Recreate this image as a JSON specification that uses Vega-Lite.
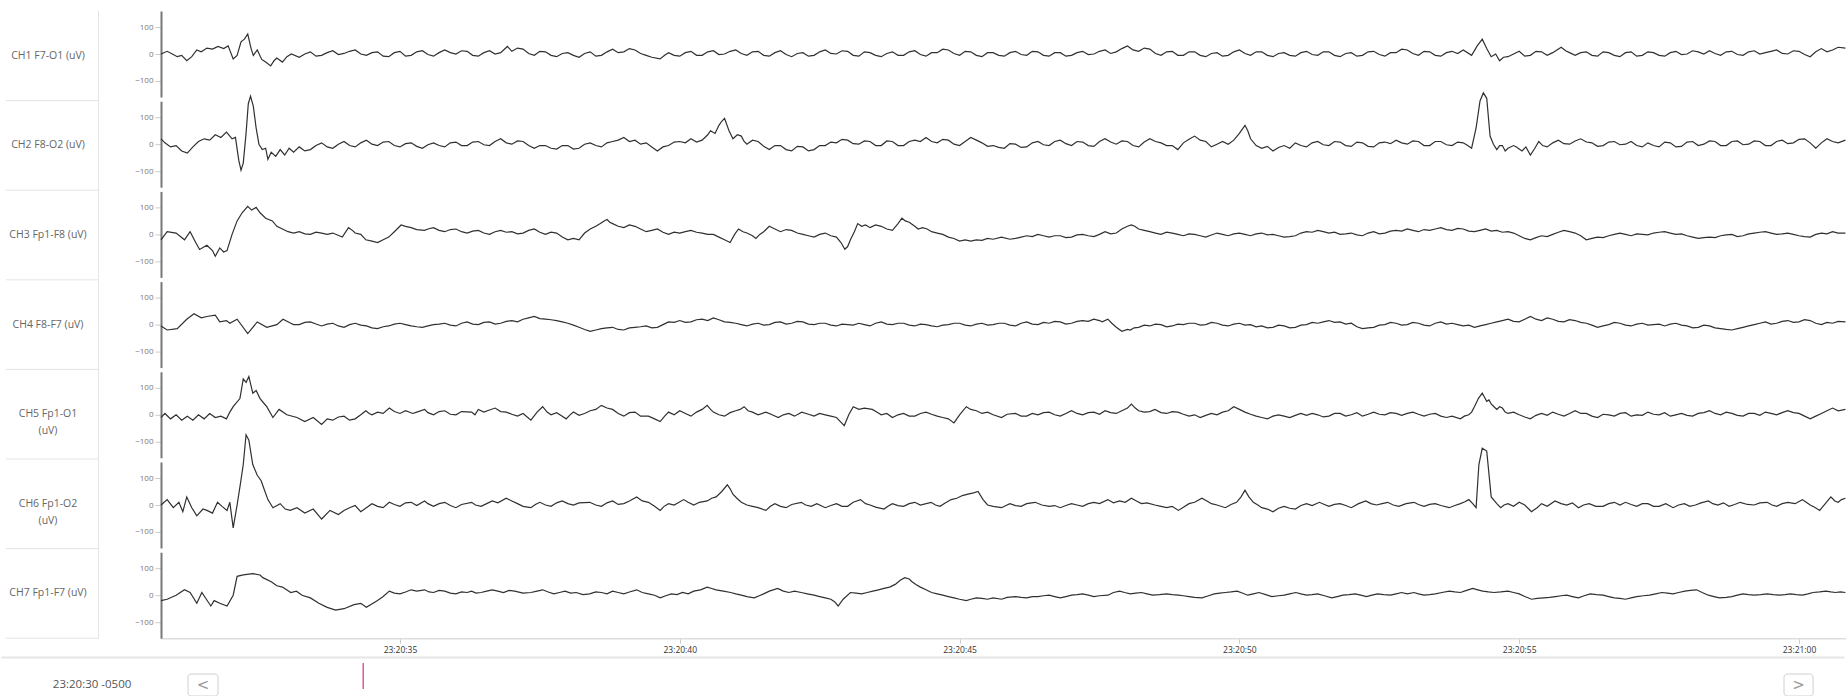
{
"$schema":"https://vega.github.io/schema/vega-lite/v6.json",
"background":"white",
"padding":{"left":0,"top":10,"right":0,"bottom":0},
"config":{"view":{"stroke":null},"font":"Open Sans","axis":{"labelFont":"Open Sans"}},
"datasets":{
"labels":[{"ch":1,"label":"CH1 F7-O1 (uV)"},{"ch":2,"label":"CH2 F8-O2 (uV)"},{"ch":3,"label":"CH3 Fp1-F8 (uV)"},{"ch":4,"label":"CH4 F8-F7 (uV)"},{"ch":5,"label":"CH5 Fp1-O1\n(uV)"},{"ch":6,"label":"CH6 Fp1-O2\n(uV)"},{"ch":7,"label":"CH7 Fp1-F7 (uV)"}],
"seps":[{"b":1.5},{"b":2.5},{"b":3.5},{"b":4.5},{"b":5.5},{"b":6.5},{"b":7.5}],
"hours":[{"h":23,"lab":"23:00"},{"h":24,"lab":"00:00"},{"h":25,"lab":"01:00"},{"h":26,"lab":"02:00"},{"h":27,"lab":"03:00"},{"h":28,"lab":"04:00"},{"h":29,"lab":"05:00"},{"h":30,"lab":"06:00"},{"h":31,"lab":"07:00"}],
"c1":[{"t":307.3,"v":0},{"t":308.4,"v":10},{"t":309.5,"v":-2},{"t":310.2,"v":-10},{"t":311,"v":-5},{"t":311.9,"v":-25},{"t":312.8,"v":-10},{"t":313.7,"v":15},{"t":314.5,"v":8},{"t":315.5,"v":22},{"t":316.5,"v":18},{"t":317.5,"v":28},{"t":318.5,"v":20},{"t":319.3,"v":30},{"t":320.2,"v":-18},{"t":320.9,"v":-5},{"t":321.6,"v":45},{"t":322.2,"v":55},{"t":322.8,"v":74},{"t":323.4,"v":20},{"t":323.8,"v":-5},{"t":324.5,"v":15},{"t":325.3,"v":-20},{"t":326,"v":-30},{"t":326.9,"v":-44},{"t":327.5,"v":-25},{"t":328,"v":-15},{"t":329,"v":-30},{"t":329.8,"v":-10},{"t":330.6,"v":0},{"t":332,"v":-12},{"t":333,"v":0},{"t":334,"v":8},{"t":335,"v":-8},{"t":336,"v":-5},{"t":337,"v":5},{"t":338,"v":12},{"t":339,"v":-2},{"t":340,"v":2},{"t":341,"v":10},{"t":342,"v":15},{"t":343,"v":0},{"t":344,"v":-5},{"t":345,"v":5},{"t":346,"v":8},{"t":347,"v":-8},{"t":348,"v":-10},{"t":349,"v":5},{"t":350,"v":10},{"t":351,"v":-8},{"t":352,"v":-5},{"t":353,"v":8},{"t":354,"v":12},{"t":355,"v":-2},{"t":356,"v":-8},{"t":357,"v":5},{"t":358,"v":15},{"t":359,"v":5},{"t":360,"v":0},{"t":361,"v":12},{"t":362,"v":10},{"t":363,"v":-5},{"t":364,"v":-8},{"t":365,"v":5},{"t":366,"v":12},{"t":367,"v":0},{"t":368,"v":5},{"t":369.2,"v":28},{"t":370,"v":10},{"t":371,"v":22},{"t":372,"v":18},{"t":373,"v":2},{"t":374,"v":-5},{"t":375,"v":10},{"t":376,"v":8},{"t":377,"v":-5},{"t":378,"v":-10},{"t":379,"v":2},{"t":380,"v":5},{"t":381,"v":-5},{"t":382,"v":-12},{"t":383,"v":2},{"t":384,"v":8},{"t":385,"v":-8},{"t":386,"v":-5},{"t":387,"v":8},{"t":388,"v":18},{"t":389,"v":5},{"t":390,"v":8},{"t":391,"v":20},{"t":392,"v":15},{"t":393,"v":2},{"t":394,"v":-5},{"t":395,"v":-12},{"t":396.5,"v":-18},{"t":397.3,"v":-5},{"t":398,"v":5},{"t":399,"v":-5},{"t":400,"v":-8},{"t":401,"v":5},{"t":402,"v":10},{"t":403,"v":-5},{"t":404,"v":-5},{"t":405,"v":8},{"t":406,"v":12},{"t":407,"v":-2},{"t":408,"v":0},{"t":409,"v":10},{"t":410,"v":15},{"t":411,"v":2},{"t":412,"v":-5},{"t":413,"v":8},{"t":414,"v":10},{"t":415,"v":-5},{"t":416,"v":-8},{"t":417,"v":5},{"t":418,"v":12},{"t":419,"v":-2},{"t":420,"v":-10},{"t":421,"v":2},{"t":422,"v":5},{"t":423,"v":-8},{"t":424,"v":-5},{"t":425,"v":8},{"t":426,"v":15},{"t":427,"v":2},{"t":428,"v":0},{"t":429,"v":12},{"t":430,"v":10},{"t":431,"v":-5},{"t":432,"v":-8},{"t":433,"v":8},{"t":434,"v":5},{"t":435,"v":-5},{"t":436,"v":-10},{"t":437,"v":2},{"t":438,"v":8},{"t":439,"v":-5},{"t":440,"v":-5},{"t":441,"v":8},{"t":442,"v":12},{"t":443,"v":-2},{"t":444,"v":-8},{"t":445,"v":5},{"t":446,"v":5},{"t":447,"v":18},{"t":448,"v":15},{"t":449,"v":2},{"t":450,"v":-5},{"t":451,"v":10},{"t":452,"v":8},{"t":453,"v":-5},{"t":454,"v":-10},{"t":455,"v":5},{"t":456,"v":5},{"t":457,"v":-5},{"t":458,"v":-8},{"t":459,"v":5},{"t":460,"v":10},{"t":461,"v":-2},{"t":462,"v":-5},{"t":463,"v":10},{"t":464,"v":8},{"t":465,"v":-5},{"t":466,"v":-8},{"t":467,"v":5},{"t":468,"v":5},{"t":469,"v":-8},{"t":470,"v":-5},{"t":471,"v":5},{"t":472,"v":10},{"t":473,"v":-2},{"t":474,"v":0},{"t":475,"v":10},{"t":476,"v":15},{"t":477,"v":2},{"t":478,"v":8},{"t":479,"v":20},{"t":480,"v":30},{"t":481,"v":15},{"t":482,"v":10},{"t":483,"v":22},{"t":484,"v":18},{"t":485,"v":2},{"t":486,"v":-5},{"t":487,"v":8},{"t":488,"v":10},{"t":489,"v":-5},{"t":490,"v":-5},{"t":491,"v":8},{"t":492,"v":8},{"t":493,"v":-5},{"t":494,"v":-10},{"t":495,"v":2},{"t":496,"v":5},{"t":497,"v":-8},{"t":498,"v":-5},{"t":499,"v":8},{"t":500,"v":15},{"t":501,"v":2},{"t":502,"v":-5},{"t":503,"v":8},{"t":504,"v":8},{"t":505,"v":-5},{"t":506,"v":-10},{"t":507,"v":2},{"t":508,"v":5},{"t":509,"v":-5},{"t":510,"v":-8},{"t":511,"v":5},{"t":512,"v":10},{"t":513,"v":-2},{"t":514,"v":-5},{"t":515,"v":8},{"t":516,"v":8},{"t":517,"v":-5},{"t":518,"v":-10},{"t":519,"v":2},{"t":520,"v":5},{"t":521,"v":-8},{"t":522,"v":-5},{"t":523,"v":8},{"t":524,"v":10},{"t":525,"v":-2},{"t":526,"v":-8},{"t":527,"v":5},{"t":528,"v":5},{"t":529,"v":18},{"t":530,"v":15},{"t":531,"v":2},{"t":532,"v":-5},{"t":533,"v":10},{"t":534,"v":8},{"t":535,"v":-5},{"t":536,"v":-8},{"t":537,"v":5},{"t":538,"v":10},{"t":539,"v":2},{"t":540,"v":15},{"t":541.5,"v":-5},{"t":542.5,"v":30},{"t":543.4,"v":55},{"t":544.2,"v":20},{"t":545,"v":-10},{"t":545.8,"v":0},{"t":546.5,"v":-25},{"t":547.2,"v":-12},{"t":548,"v":-10},{"t":549,"v":0},{"t":550,"v":10},{"t":551,"v":-8},{"t":552,"v":-5},{"t":553,"v":10},{"t":554,"v":8},{"t":555,"v":-5},{"t":556,"v":5},{"t":557.5,"v":25},{"t":558.3,"v":12},{"t":559,"v":5},{"t":560,"v":-5},{"t":561,"v":5},{"t":562,"v":8},{"t":563,"v":-5},{"t":564,"v":-8},{"t":565,"v":8},{"t":566,"v":5},{"t":567,"v":-5},{"t":568,"v":-10},{"t":569,"v":5},{"t":570,"v":8},{"t":571,"v":-8},{"t":572,"v":-5},{"t":573,"v":8},{"t":574,"v":5},{"t":575,"v":-5},{"t":576,"v":-8},{"t":577,"v":5},{"t":578,"v":10},{"t":579,"v":-2},{"t":580,"v":0},{"t":581,"v":12},{"t":582,"v":8},{"t":583,"v":0},{"t":584,"v":12},{"t":585,"v":2},{"t":586,"v":-5},{"t":587,"v":8},{"t":588,"v":10},{"t":589,"v":-2},{"t":590,"v":-5},{"t":591,"v":8},{"t":592,"v":12},{"t":593,"v":0},{"t":594,"v":5},{"t":595,"v":10},{"t":596,"v":15},{"t":597,"v":2},{"t":598,"v":0},{"t":599,"v":12},{"t":600,"v":10},{"t":601,"v":-2},{"t":602,"v":-10},{"t":603,"v":8},{"t":604,"v":20},{"t":605,"v":8},{"t":606,"v":15},{"t":607,"v":25},{"t":608.3,"v":22}],
"c2":[{"t":307.3,"v":20},{"t":308,"v":5},{"t":309,"v":-10},{"t":310,"v":-5},{"t":311,"v":-25},{"t":312,"v":-33},{"t":313,"v":-10},{"t":314,"v":10},{"t":315,"v":20},{"t":316,"v":15},{"t":317,"v":35},{"t":318,"v":25},{"t":319,"v":45},{"t":320,"v":20},{"t":320.6,"v":25},{"t":321.2,"v":-60},{"t":321.6,"v":-96},{"t":322,"v":-70},{"t":322.5,"v":40},{"t":322.9,"v":150},{"t":323.3,"v":178},{"t":323.8,"v":140},{"t":324.3,"v":60},{"t":324.8,"v":0},{"t":325.4,"v":-20},{"t":326,"v":-15},{"t":326.4,"v":-56},{"t":327,"v":-30},{"t":327.8,"v":-45},{"t":328.6,"v":-20},{"t":329.4,"v":-40},{"t":330.2,"v":-15},{"t":331,"v":-30},{"t":332,"v":-10},{"t":333,"v":-25},{"t":334,"v":-20},{"t":335,"v":-5},{"t":336,"v":5},{"t":337,"v":-10},{"t":338,"v":-15},{"t":339,"v":0},{"t":340,"v":10},{"t":341,"v":-5},{"t":342,"v":-10},{"t":343,"v":5},{"t":344,"v":15},{"t":345,"v":0},{"t":346,"v":-5},{"t":347,"v":8},{"t":348,"v":10},{"t":349,"v":-5},{"t":350,"v":-10},{"t":351,"v":2},{"t":352,"v":5},{"t":353,"v":-8},{"t":354,"v":-15},{"t":355,"v":-2},{"t":356,"v":5},{"t":357,"v":-5},{"t":358,"v":-10},{"t":359,"v":5},{"t":360,"v":8},{"t":361,"v":-5},{"t":362,"v":-5},{"t":363,"v":8},{"t":364,"v":10},{"t":365,"v":-2},{"t":366,"v":-5},{"t":367,"v":10},{"t":368,"v":20},{"t":369,"v":5},{"t":370,"v":0},{"t":371,"v":12},{"t":372,"v":10},{"t":373,"v":-5},{"t":374,"v":-15},{"t":375,"v":-5},{"t":376,"v":-5},{"t":377,"v":-15},{"t":378,"v":-18},{"t":379,"v":-5},{"t":380,"v":-5},{"t":381,"v":-18},{"t":382,"v":-15},{"t":383,"v":0},{"t":384,"v":5},{"t":385,"v":-5},{"t":386,"v":-10},{"t":387,"v":5},{"t":388,"v":10},{"t":389,"v":15},{"t":390,"v":25},{"t":391,"v":10},{"t":392,"v":15},{"t":393,"v":0},{"t":394,"v":5},{"t":395,"v":-10},{"t":396,"v":-25},{"t":397,"v":-10},{"t":398,"v":-5},{"t":399,"v":8},{"t":400,"v":10},{"t":401,"v":5},{"t":402,"v":20},{"t":403,"v":8},{"t":404,"v":15},{"t":405,"v":35},{"t":405.5,"v":50},{"t":406.3,"v":40},{"t":407,"v":70},{"t":407.5,"v":85},{"t":408,"v":96},{"t":408.8,"v":50},{"t":409.5,"v":20},{"t":410.3,"v":35},{"t":411,"v":30},{"t":411.5,"v":10},{"t":412,"v":0},{"t":413,"v":15},{"t":414,"v":10},{"t":415,"v":-8},{"t":416,"v":-20},{"t":417,"v":-5},{"t":418,"v":-5},{"t":419,"v":-20},{"t":420,"v":-25},{"t":421,"v":-8},{"t":422,"v":-10},{"t":423,"v":-25},{"t":424,"v":-20},{"t":425,"v":-5},{"t":426,"v":-5},{"t":427,"v":8},{"t":428,"v":5},{"t":429,"v":18},{"t":430,"v":15},{"t":431,"v":2},{"t":432,"v":0},{"t":433,"v":12},{"t":434,"v":10},{"t":435,"v":-5},{"t":436,"v":-5},{"t":437,"v":12},{"t":438,"v":10},{"t":439,"v":-5},{"t":440,"v":-5},{"t":441,"v":10},{"t":442,"v":15},{"t":443,"v":10},{"t":444,"v":25},{"t":445,"v":10},{"t":446,"v":5},{"t":447,"v":18},{"t":448,"v":15},{"t":449,"v":0},{"t":450,"v":-5},{"t":451,"v":10},{"t":452,"v":25},{"t":453,"v":15},{"t":454,"v":5},{"t":455,"v":-8},{"t":456,"v":-5},{"t":457,"v":-12},{"t":458,"v":-15},{"t":459,"v":2},{"t":460,"v":0},{"t":461,"v":-12},{"t":462,"v":-10},{"t":463,"v":5},{"t":464,"v":10},{"t":465,"v":-2},{"t":466,"v":-5},{"t":467,"v":10},{"t":468,"v":15},{"t":469,"v":2},{"t":470,"v":-5},{"t":471,"v":10},{"t":472,"v":8},{"t":473,"v":-5},{"t":474,"v":-8},{"t":475,"v":10},{"t":476,"v":20},{"t":477,"v":8},{"t":478,"v":0},{"t":479,"v":12},{"t":480,"v":10},{"t":481,"v":-5},{"t":482,"v":-10},{"t":483,"v":8},{"t":484,"v":20},{"t":485,"v":10},{"t":486,"v":5},{"t":487,"v":-5},{"t":488,"v":-5},{"t":489,"v":-20},{"t":490,"v":5},{"t":491,"v":18},{"t":492,"v":30},{"t":493,"v":15},{"t":494,"v":10},{"t":495,"v":-10},{"t":496,"v":0},{"t":497,"v":10},{"t":498,"v":0},{"t":499,"v":15},{"t":500,"v":40},{"t":501,"v":70},{"t":501.5,"v":50},{"t":502,"v":20},{"t":503,"v":-5},{"t":504,"v":-15},{"t":505,"v":-8},{"t":506,"v":-25},{"t":507,"v":-12},{"t":508,"v":-5},{"t":509,"v":-15},{"t":510,"v":5},{"t":511,"v":-5},{"t":512,"v":-10},{"t":513,"v":5},{"t":514,"v":10},{"t":515,"v":-2},{"t":516,"v":-5},{"t":517,"v":10},{"t":518,"v":8},{"t":519,"v":-5},{"t":520,"v":-8},{"t":521,"v":8},{"t":522,"v":5},{"t":523,"v":-8},{"t":524,"v":-10},{"t":525,"v":5},{"t":526,"v":8},{"t":527,"v":2},{"t":528,"v":15},{"t":529,"v":5},{"t":530,"v":0},{"t":531,"v":12},{"t":532,"v":10},{"t":533,"v":-5},{"t":534,"v":-5},{"t":535,"v":10},{"t":536,"v":10},{"t":537,"v":-2},{"t":538,"v":-5},{"t":539,"v":8},{"t":540,"v":5},{"t":540.8,"v":-5},{"t":541.5,"v":-15},{"t":542.3,"v":60},{"t":543,"v":160},{"t":543.6,"v":190},{"t":544.2,"v":170},{"t":544.8,"v":30},{"t":545.4,"v":0},{"t":546,"v":-20},{"t":546.5,"v":-5},{"t":547,"v":-5},{"t":547.5,"v":-25},{"t":548,"v":-15},{"t":549,"v":-5},{"t":549.5,"v":-10},{"t":550.5,"v":-25},{"t":551.2,"v":-10},{"t":552,"v":-40},{"t":552.8,"v":-15},{"t":553.5,"v":10},{"t":554.2,"v":-5},{"t":555,"v":-10},{"t":556,"v":5},{"t":557,"v":15},{"t":558,"v":2},{"t":559,"v":0},{"t":560,"v":12},{"t":561,"v":20},{"t":562,"v":8},{"t":563,"v":5},{"t":564,"v":-8},{"t":565,"v":-5},{"t":566,"v":8},{"t":567,"v":10},{"t":568,"v":-2},{"t":569,"v":0},{"t":570,"v":10},{"t":571,"v":-5},{"t":572,"v":-10},{"t":573,"v":5},{"t":574,"v":-5},{"t":575,"v":-10},{"t":576,"v":8},{"t":577,"v":5},{"t":578,"v":-10},{"t":579,"v":-8},{"t":580,"v":8},{"t":581,"v":10},{"t":582,"v":-5},{"t":583,"v":0},{"t":584,"v":12},{"t":585,"v":10},{"t":586,"v":-5},{"t":587,"v":-5},{"t":588,"v":10},{"t":589,"v":12},{"t":590,"v":-2},{"t":591,"v":0},{"t":592,"v":12},{"t":593,"v":10},{"t":594,"v":-5},{"t":595,"v":-5},{"t":596,"v":10},{"t":597,"v":15},{"t":598,"v":2},{"t":599,"v":5},{"t":600,"v":18},{"t":601,"v":20},{"t":602,"v":5},{"t":603,"v":-15},{"t":604,"v":5},{"t":605,"v":20},{"t":606,"v":10},{"t":607,"v":5},{"t":608.3,"v":15}],
"c3":[{"t":307.3,"v":-20},{"t":308.4,"v":10},{"t":310,"v":5},{"t":311.5,"v":-20},{"t":312.5,"v":10},{"t":313.5,"v":-30},{"t":314.2,"v":-56},{"t":315.5,"v":-40},{"t":316.5,"v":-60},{"t":317,"v":-81},{"t":317.8,"v":-50},{"t":318.5,"v":-65},{"t":319.1,"v":-60},{"t":320,"v":0},{"t":320.9,"v":50},{"t":321.8,"v":80},{"t":322.8,"v":104},{"t":323.5,"v":90},{"t":324.3,"v":100},{"t":325,"v":80},{"t":326,"v":60},{"t":327.2,"v":50},{"t":328,"v":30},{"t":329,"v":20},{"t":330,"v":10},{"t":331,"v":5},{"t":332,"v":10},{"t":333,"v":2},{"t":334,"v":0},{"t":335,"v":8},{"t":336,"v":5},{"t":337,"v":0},{"t":338,"v":5},{"t":339.7,"v":-10},{"t":340.8,"v":25},{"t":341.5,"v":15},{"t":342,"v":5},{"t":343,"v":0},{"t":343.9,"v":-20},{"t":345,"v":-25},{"t":346,"v":-30},{"t":347,"v":-20},{"t":348,"v":-10},{"t":349,"v":10},{"t":350.2,"v":35},{"t":351,"v":30},{"t":352,"v":25},{"t":353,"v":18},{"t":354.4,"v":15},{"t":355,"v":20},{"t":356,"v":25},{"t":357,"v":15},{"t":358,"v":10},{"t":359,"v":18},{"t":360,"v":20},{"t":361,"v":10},{"t":362,"v":5},{"t":363,"v":12},{"t":364,"v":15},{"t":365,"v":5},{"t":366,"v":0},{"t":367,"v":10},{"t":368,"v":15},{"t":369,"v":8},{"t":370,"v":10},{"t":371,"v":2},{"t":372,"v":5},{"t":373,"v":15},{"t":374,"v":20},{"t":375,"v":8},{"t":376,"v":0},{"t":377,"v":8},{"t":378,"v":5},{"t":379,"v":-10},{"t":380,"v":-20},{"t":381,"v":-15},{"t":382,"v":-20},{"t":383,"v":5},{"t":384,"v":20},{"t":385,"v":30},{"t":385.8,"v":40},{"t":386.5,"v":50},{"t":387,"v":55},{"t":387.5,"v":45},{"t":388,"v":40},{"t":389,"v":30},{"t":390,"v":25},{"t":391,"v":35},{"t":392,"v":30},{"t":393,"v":20},{"t":394,"v":10},{"t":395,"v":15},{"t":396,"v":20},{"t":397,"v":8},{"t":398,"v":0},{"t":399,"v":8},{"t":400,"v":5},{"t":401,"v":10},{"t":402,"v":15},{"t":403,"v":8},{"t":404,"v":5},{"t":405,"v":0},{"t":406,"v":0},{"t":407,"v":-10},{"t":408,"v":-20},{"t":409,"v":-30},{"t":409.8,"v":0},{"t":410.5,"v":20},{"t":411.3,"v":10},{"t":412,"v":5},{"t":413,"v":-5},{"t":413.6,"v":-15},{"t":414.3,"v":0},{"t":415,"v":10},{"t":415.5,"v":20},{"t":416,"v":30},{"t":417,"v":20},{"t":418,"v":10},{"t":419,"v":18},{"t":420,"v":15},{"t":421,"v":5},{"t":422,"v":0},{"t":423,"v":-5},{"t":424,"v":-10},{"t":425,"v":0},{"t":426,"v":5},{"t":427,"v":-5},{"t":428,"v":-10},{"t":428.8,"v":-30},{"t":429.5,"v":-55},{"t":430,"v":-45},{"t":430.5,"v":-20},{"t":431.2,"v":10},{"t":431.8,"v":40},{"t":432.5,"v":30},{"t":433.2,"v":35},{"t":434,"v":25},{"t":435,"v":35},{"t":436,"v":30},{"t":437,"v":20},{"t":438,"v":15},{"t":439,"v":40},{"t":439.7,"v":60},{"t":440.3,"v":50},{"t":441,"v":45},{"t":442,"v":30},{"t":442.6,"v":20},{"t":443.4,"v":25},{"t":444.2,"v":20},{"t":445,"v":10},{"t":446,"v":5},{"t":447,"v":0},{"t":448,"v":-10},{"t":449,"v":-15},{"t":450,"v":-25},{"t":451,"v":-20},{"t":452,"v":-25},{"t":453,"v":-20},{"t":454,"v":-22},{"t":455,"v":-15},{"t":456,"v":-18},{"t":457.5,"v":-10},{"t":459,"v":-18},{"t":460,"v":-15},{"t":461,"v":-10},{"t":462,"v":-5},{"t":463,"v":-8},{"t":464,"v":0},{"t":465,"v":-5},{"t":466,"v":-10},{"t":467,"v":-5},{"t":468,"v":-5},{"t":469,"v":-12},{"t":470,"v":-10},{"t":471,"v":-2},{"t":472,"v":0},{"t":473,"v":-5},{"t":474,"v":-8},{"t":475,"v":0},{"t":476,"v":10},{"t":477,"v":2},{"t":478,"v":5},{"t":479,"v":20},{"t":480,"v":30},{"t":480.7,"v":35},{"t":481.3,"v":30},{"t":482,"v":20},{"t":483,"v":15},{"t":484,"v":10},{"t":485,"v":5},{"t":486,"v":0},{"t":487,"v":8},{"t":488,"v":5},{"t":489,"v":0},{"t":490,"v":-5},{"t":491,"v":2},{"t":492,"v":0},{"t":493,"v":-5},{"t":494,"v":-10},{"t":495,"v":-2},{"t":496,"v":5},{"t":497,"v":0},{"t":498,"v":-5},{"t":499,"v":2},{"t":500,"v":5},{"t":501,"v":0},{"t":502,"v":-5},{"t":503,"v":2},{"t":504,"v":5},{"t":505,"v":-2},{"t":506,"v":0},{"t":507,"v":-5},{"t":508,"v":-10},{"t":509,"v":-8},{"t":510,"v":-5},{"t":511,"v":5},{"t":512,"v":10},{"t":513,"v":8},{"t":514,"v":15},{"t":515,"v":10},{"t":516,"v":5},{"t":517,"v":8},{"t":518,"v":0},{"t":519,"v":2},{"t":520,"v":5},{"t":521,"v":-2},{"t":522,"v":-5},{"t":523,"v":5},{"t":524,"v":10},{"t":525,"v":2},{"t":526,"v":5},{"t":527,"v":12},{"t":528,"v":15},{"t":529,"v":12},{"t":530,"v":20},{"t":531,"v":15},{"t":532,"v":10},{"t":533,"v":18},{"t":534,"v":15},{"t":535,"v":20},{"t":536,"v":25},{"t":537,"v":18},{"t":538,"v":15},{"t":539,"v":22},{"t":540,"v":20},{"t":541,"v":12},{"t":542,"v":10},{"t":543,"v":15},{"t":544,"v":20},{"t":545,"v":12},{"t":546,"v":15},{"t":547,"v":8},{"t":548,"v":10},{"t":549,"v":5},{"t":550,"v":-5},{"t":551,"v":-15},{"t":552,"v":-20},{"t":553,"v":-12},{"t":554,"v":-5},{"t":555,"v":-8},{"t":556,"v":0},{"t":557,"v":8},{"t":558,"v":15},{"t":559,"v":10},{"t":560,"v":5},{"t":561,"v":-5},{"t":562,"v":-20},{"t":563,"v":-15},{"t":564,"v":-10},{"t":565,"v":-12},{"t":566,"v":-5},{"t":567,"v":0},{"t":568,"v":5},{"t":569,"v":0},{"t":570,"v":-5},{"t":571,"v":2},{"t":572,"v":0},{"t":573,"v":-2},{"t":574,"v":5},{"t":575,"v":8},{"t":576,"v":10},{"t":577,"v":5},{"t":578,"v":0},{"t":579,"v":2},{"t":580,"v":-5},{"t":581,"v":-10},{"t":582,"v":-15},{"t":583,"v":-12},{"t":584,"v":-10},{"t":585,"v":-12},{"t":586,"v":-5},{"t":587,"v":-2},{"t":588,"v":0},{"t":589,"v":-8},{"t":590,"v":-5},{"t":591,"v":2},{"t":592,"v":5},{"t":593,"v":8},{"t":594,"v":10},{"t":595,"v":5},{"t":596,"v":0},{"t":597,"v":2},{"t":598,"v":5},{"t":599,"v":0},{"t":600,"v":-5},{"t":601,"v":-8},{"t":602,"v":-10},{"t":603,"v":0},{"t":604,"v":5},{"t":605,"v":2},{"t":606,"v":10},{"t":607,"v":5},{"t":608.3,"v":5}],
"c4":[{"t":307.3,"v":-5},{"t":308.4,"v":-20},{"t":310.2,"v":-15},{"t":311.9,"v":20},{"t":313.2,"v":40},{"t":314.5,"v":25},{"t":315.5,"v":30},{"t":317,"v":35},{"t":317.8,"v":10},{"t":319,"v":15},{"t":319.6,"v":5},{"t":320.9,"v":20},{"t":322.8,"v":-33},{"t":324.5,"v":10},{"t":326.2,"v":-10},{"t":328,"v":0},{"t":329.1,"v":20},{"t":330.5,"v":5},{"t":331,"v":0},{"t":332,"v":0},{"t":333,"v":8},{"t":334,"v":10},{"t":335,"v":2},{"t":336,"v":-5},{"t":337,"v":2},{"t":338,"v":5},{"t":339,"v":-5},{"t":340,"v":-10},{"t":341,"v":0},{"t":342,"v":5},{"t":343,"v":-2},{"t":344,"v":-5},{"t":345,"v":-12},{"t":346,"v":-15},{"t":347,"v":-8},{"t":348,"v":-5},{"t":349,"v":2},{"t":350,"v":5},{"t":351,"v":0},{"t":352,"v":-5},{"t":353,"v":-8},{"t":354,"v":-10},{"t":355,"v":-5},{"t":356,"v":0},{"t":357,"v":2},{"t":358,"v":5},{"t":359,"v":-2},{"t":360,"v":-5},{"t":361,"v":5},{"t":362,"v":10},{"t":363,"v":2},{"t":364,"v":0},{"t":365,"v":8},{"t":366,"v":10},{"t":367,"v":2},{"t":368,"v":5},{"t":369,"v":12},{"t":370,"v":15},{"t":371,"v":10},{"t":372,"v":20},{"t":373,"v":25},{"t":374,"v":30},{"t":375,"v":22},{"t":376,"v":20},{"t":377,"v":18},{"t":378,"v":15},{"t":379,"v":10},{"t":380,"v":5},{"t":381,"v":-2},{"t":382,"v":-10},{"t":383,"v":-18},{"t":384,"v":-25},{"t":385,"v":-20},{"t":386,"v":-15},{"t":387,"v":-12},{"t":388,"v":-10},{"t":389,"v":-18},{"t":390,"v":-20},{"t":391,"v":-12},{"t":392,"v":-10},{"t":393,"v":-8},{"t":394,"v":-5},{"t":395,"v":-12},{"t":396,"v":-10},{"t":397,"v":0},{"t":398,"v":10},{"t":399,"v":8},{"t":400,"v":15},{"t":401,"v":8},{"t":402,"v":10},{"t":403,"v":18},{"t":404,"v":20},{"t":405,"v":15},{"t":406,"v":25},{"t":407,"v":18},{"t":408,"v":10},{"t":409,"v":8},{"t":410,"v":5},{"t":411,"v":0},{"t":412,"v":-5},{"t":413,"v":2},{"t":414,"v":5},{"t":415,"v":-2},{"t":416,"v":0},{"t":417,"v":8},{"t":418,"v":10},{"t":419,"v":2},{"t":420,"v":5},{"t":421,"v":12},{"t":422,"v":10},{"t":423,"v":2},{"t":424,"v":0},{"t":425,"v":5},{"t":426,"v":5},{"t":427,"v":-2},{"t":428,"v":-5},{"t":429,"v":2},{"t":430,"v":0},{"t":431,"v":-2},{"t":432,"v":5},{"t":433,"v":0},{"t":434,"v":-5},{"t":435,"v":5},{"t":436,"v":10},{"t":437,"v":2},{"t":438,"v":0},{"t":439,"v":5},{"t":440,"v":5},{"t":441,"v":-2},{"t":442,"v":-5},{"t":443,"v":2},{"t":444,"v":0},{"t":445,"v":-5},{"t":446,"v":-8},{"t":447,"v":-2},{"t":448,"v":0},{"t":449,"v":5},{"t":450,"v":5},{"t":451,"v":-2},{"t":452,"v":-5},{"t":453,"v":2},{"t":454,"v":5},{"t":455,"v":-2},{"t":456,"v":0},{"t":457,"v":5},{"t":458,"v":5},{"t":459,"v":-2},{"t":460,"v":-5},{"t":461,"v":5},{"t":462,"v":10},{"t":463,"v":2},{"t":464,"v":0},{"t":465,"v":8},{"t":466,"v":5},{"t":467,"v":12},{"t":468,"v":10},{"t":469,"v":2},{"t":470,"v":5},{"t":471,"v":12},{"t":472,"v":15},{"t":473,"v":12},{"t":474,"v":20},{"t":475,"v":15},{"t":475.5,"v":10},{"t":476.5,"v":20},{"t":477.2,"v":5},{"t":478,"v":-10},{"t":479,"v":-25},{"t":480,"v":-18},{"t":480.5,"v":-20},{"t":481.2,"v":-12},{"t":482,"v":-10},{"t":483,"v":-2},{"t":484,"v":-5},{"t":485,"v":2},{"t":486,"v":0},{"t":487,"v":-8},{"t":488,"v":-5},{"t":489,"v":2},{"t":490,"v":0},{"t":491,"v":5},{"t":492,"v":5},{"t":493,"v":-2},{"t":494,"v":0},{"t":495,"v":8},{"t":496,"v":5},{"t":497,"v":-2},{"t":498,"v":-5},{"t":499,"v":2},{"t":500,"v":5},{"t":501,"v":-2},{"t":502,"v":0},{"t":503,"v":-8},{"t":504,"v":-5},{"t":505,"v":-12},{"t":506,"v":-10},{"t":507,"v":-2},{"t":508,"v":-5},{"t":509,"v":-12},{"t":510,"v":-10},{"t":511,"v":-2},{"t":512,"v":0},{"t":513,"v":8},{"t":514,"v":5},{"t":515,"v":10},{"t":516,"v":15},{"t":517,"v":8},{"t":518,"v":10},{"t":519,"v":2},{"t":520,"v":5},{"t":521,"v":-8},{"t":522,"v":-15},{"t":523,"v":-12},{"t":524,"v":-10},{"t":525,"v":-2},{"t":526,"v":0},{"t":527,"v":8},{"t":528,"v":5},{"t":529,"v":-2},{"t":530,"v":0},{"t":531,"v":8},{"t":532,"v":5},{"t":533,"v":-2},{"t":534,"v":-5},{"t":535,"v":5},{"t":536,"v":10},{"t":537,"v":2},{"t":538,"v":5},{"t":539,"v":0},{"t":540,"v":-5},{"t":541,"v":-2},{"t":542,"v":-10},{"t":543,"v":-5},{"t":544,"v":0},{"t":545,"v":5},{"t":546,"v":10},{"t":547,"v":15},{"t":548,"v":20},{"t":549,"v":12},{"t":550,"v":10},{"t":551,"v":20},{"t":552,"v":30},{"t":553,"v":20},{"t":554,"v":15},{"t":555,"v":25},{"t":556,"v":20},{"t":557,"v":12},{"t":558,"v":10},{"t":559,"v":18},{"t":560,"v":15},{"t":561,"v":8},{"t":562,"v":5},{"t":563,"v":-2},{"t":564,"v":-10},{"t":565,"v":-5},{"t":566,"v":0},{"t":567,"v":8},{"t":568,"v":5},{"t":569,"v":-2},{"t":570,"v":-5},{"t":571,"v":2},{"t":572,"v":5},{"t":573,"v":-2},{"t":574,"v":0},{"t":575,"v":2},{"t":576,"v":-5},{"t":577,"v":2},{"t":578,"v":5},{"t":579,"v":-2},{"t":580,"v":-5},{"t":581,"v":-12},{"t":582,"v":-10},{"t":583,"v":-2},{"t":584,"v":-5},{"t":585,"v":-12},{"t":586,"v":-15},{"t":587,"v":-18},{"t":588,"v":-20},{"t":589,"v":-15},{"t":590,"v":-10},{"t":591,"v":-5},{"t":592,"v":0},{"t":593,"v":5},{"t":594,"v":10},{"t":595,"v":2},{"t":596,"v":5},{"t":597,"v":12},{"t":598,"v":15},{"t":599,"v":8},{"t":600,"v":10},{"t":601,"v":18},{"t":602,"v":15},{"t":603,"v":5},{"t":604,"v":0},{"t":605,"v":8},{"t":606,"v":5},{"t":607,"v":12},{"t":608.3,"v":10}],
"c5":[{"t":307.3,"v":-10},{"t":308,"v":5},{"t":309,"v":-15},{"t":310,"v":0},{"t":311,"v":-20},{"t":312,"v":-5},{"t":313,"v":-20},{"t":314,"v":0},{"t":315,"v":-15},{"t":316,"v":5},{"t":317,"v":-10},{"t":318,"v":-5},{"t":319,"v":-15},{"t":319.6,"v":10},{"t":320.2,"v":30},{"t":321.4,"v":60},{"t":322,"v":133},{"t":322.5,"v":120},{"t":323,"v":142},{"t":323.7,"v":80},{"t":324.3,"v":90},{"t":325,"v":60},{"t":325.8,"v":40},{"t":326.2,"v":30},{"t":327.3,"v":-10},{"t":328.4,"v":20},{"t":329.8,"v":0},{"t":331.6,"v":-10},{"t":333,"v":-25},{"t":334.5,"v":-10},{"t":336,"v":-36},{"t":337,"v":-15},{"t":338,"v":-20},{"t":339,"v":-8},{"t":340,"v":-5},{"t":341,"v":-20},{"t":342,"v":-15},{"t":343,"v":0},{"t":343.9,"v":15},{"t":344.5,"v":5},{"t":345,"v":0},{"t":346,"v":10},{"t":347,"v":5},{"t":348.1,"v":25},{"t":349,"v":12},{"t":350,"v":5},{"t":351,"v":15},{"t":352.3,"v":5},{"t":353,"v":10},{"t":354.4,"v":20},{"t":355,"v":8},{"t":356,"v":0},{"t":357,"v":12},{"t":358,"v":15},{"t":359,"v":2},{"t":360,"v":0},{"t":361,"v":12},{"t":362.8,"v":10},{"t":363.4,"v":0},{"t":364,"v":20},{"t":365,"v":10},{"t":366,"v":18},{"t":367,"v":25},{"t":368,"v":12},{"t":369,"v":10},{"t":370,"v":2},{"t":371,"v":-5},{"t":372,"v":5},{"t":373.4,"v":-20},{"t":374.5,"v":10},{"t":375.5,"v":30},{"t":376.3,"v":10},{"t":377,"v":0},{"t":378,"v":8},{"t":379,"v":-5},{"t":379.7,"v":-15},{"t":380.3,"v":-2},{"t":381,"v":10},{"t":382,"v":-2},{"t":383,"v":5},{"t":384,"v":15},{"t":385,"v":20},{"t":386,"v":35},{"t":387,"v":25},{"t":388,"v":20},{"t":389,"v":5},{"t":390,"v":-5},{"t":391,"v":8},{"t":392,"v":10},{"t":393,"v":-5},{"t":394.4,"v":-5},{"t":395.5,"v":-15},{"t":396.5,"v":-25},{"t":397.3,"v":-5},{"t":398,"v":10},{"t":399,"v":0},{"t":400,"v":15},{"t":401,"v":5},{"t":402,"v":-5},{"t":403,"v":10},{"t":404,"v":20},{"t":404.9,"v":35},{"t":405.5,"v":20},{"t":406,"v":10},{"t":407,"v":0},{"t":408,"v":-5},{"t":409,"v":8},{"t":410,"v":15},{"t":410.8,"v":20},{"t":411.5,"v":30},{"t":412.2,"v":15},{"t":413,"v":10},{"t":414,"v":0},{"t":415.4,"v":10},{"t":416.5,"v":0},{"t":417.6,"v":-10},{"t":418.5,"v":0},{"t":419.5,"v":5},{"t":420.5,"v":-5},{"t":421.8,"v":10},{"t":423,"v":2},{"t":424,"v":-5},{"t":425,"v":5},{"t":426,"v":0},{"t":427,"v":-5},{"t":428,"v":-10},{"t":428.7,"v":-25},{"t":429.4,"v":-40},{"t":430.2,"v":0},{"t":431,"v":30},{"t":432,"v":20},{"t":433,"v":25},{"t":434.4,"v":20},{"t":435.2,"v":10},{"t":436,"v":0},{"t":437,"v":5},{"t":438,"v":-10},{"t":439,"v":0},{"t":440,"v":5},{"t":441,"v":-5},{"t":442,"v":-5},{"t":443,"v":5},{"t":444,"v":10},{"t":445,"v":2},{"t":446,"v":-5},{"t":447,"v":-10},{"t":448,"v":-15},{"t":449,"v":-30},{"t":450,"v":0},{"t":451.2,"v":30},{"t":452,"v":20},{"t":453,"v":15},{"t":454,"v":5},{"t":455,"v":10},{"t":456,"v":0},{"t":457.5,"v":-10},{"t":458.5,"v":2},{"t":460,"v":5},{"t":461,"v":-5},{"t":462,"v":-5},{"t":463,"v":5},{"t":464,"v":0},{"t":465,"v":8},{"t":466,"v":10},{"t":467,"v":0},{"t":468,"v":-5},{"t":469,"v":5},{"t":470,"v":15},{"t":471,"v":5},{"t":472,"v":0},{"t":473,"v":8},{"t":474,"v":10},{"t":475,"v":2},{"t":476,"v":15},{"t":477,"v":8},{"t":478,"v":5},{"t":479,"v":15},{"t":480,"v":25},{"t":480.7,"v":40},{"t":481.4,"v":25},{"t":482,"v":15},{"t":483,"v":10},{"t":484,"v":12},{"t":484.9,"v":20},{"t":486,"v":8},{"t":487,"v":5},{"t":488,"v":12},{"t":489,"v":10},{"t":490,"v":2},{"t":491,"v":-5},{"t":492,"v":0},{"t":493,"v":-10},{"t":494,"v":-2},{"t":495,"v":5},{"t":496,"v":0},{"t":497,"v":10},{"t":498,"v":15},{"t":499,"v":30},{"t":500,"v":20},{"t":501,"v":10},{"t":502,"v":2},{"t":503,"v":-5},{"t":504,"v":-10},{"t":505,"v":-15},{"t":506,"v":-5},{"t":507,"v":0},{"t":508,"v":-5},{"t":509,"v":-10},{"t":510,"v":-2},{"t":511,"v":5},{"t":512,"v":-2},{"t":513,"v":5},{"t":514,"v":0},{"t":515,"v":-8},{"t":516,"v":-5},{"t":517,"v":5},{"t":518,"v":5},{"t":519,"v":-5},{"t":520,"v":0},{"t":521,"v":8},{"t":522,"v":-5},{"t":523,"v":2},{"t":524,"v":10},{"t":525,"v":2},{"t":526,"v":0},{"t":527,"v":8},{"t":528,"v":5},{"t":529,"v":-2},{"t":530,"v":5},{"t":531,"v":10},{"t":532,"v":2},{"t":533,"v":-5},{"t":534,"v":2},{"t":535,"v":5},{"t":536,"v":-5},{"t":537,"v":-10},{"t":538,"v":-5},{"t":539.5,"v":-15},{"t":540.2,"v":-5},{"t":541,"v":0},{"t":541.5,"v":10},{"t":542,"v":30},{"t":542.7,"v":60},{"t":543.4,"v":80},{"t":543.8,"v":65},{"t":544.2,"v":50},{"t":544.6,"v":55},{"t":545,"v":40},{"t":545.5,"v":30},{"t":546,"v":20},{"t":546.5,"v":30},{"t":547,"v":25},{"t":547.5,"v":10},{"t":548,"v":5},{"t":549,"v":10},{"t":550,"v":0},{"t":551,"v":-8},{"t":552,"v":-15},{"t":553,"v":-2},{"t":554,"v":5},{"t":555,"v":-2},{"t":556,"v":10},{"t":557,"v":2},{"t":558,"v":-5},{"t":559,"v":5},{"t":560,"v":15},{"t":561,"v":5},{"t":562,"v":5},{"t":563,"v":-5},{"t":564,"v":-10},{"t":565,"v":2},{"t":566,"v":0},{"t":567,"v":-5},{"t":568,"v":5},{"t":569,"v":8},{"t":570,"v":-5},{"t":571,"v":0},{"t":572,"v":-2},{"t":573,"v":10},{"t":574,"v":2},{"t":575,"v":0},{"t":576,"v":8},{"t":577,"v":-5},{"t":578,"v":0},{"t":579,"v":5},{"t":580,"v":-2},{"t":581,"v":-5},{"t":582,"v":5},{"t":583,"v":8},{"t":584,"v":15},{"t":585,"v":5},{"t":586,"v":0},{"t":587,"v":10},{"t":588,"v":5},{"t":589,"v":-2},{"t":590,"v":-5},{"t":591,"v":5},{"t":592,"v":5},{"t":593,"v":-2},{"t":594,"v":10},{"t":595,"v":5},{"t":596,"v":0},{"t":597,"v":8},{"t":598,"v":15},{"t":599,"v":8},{"t":600,"v":5},{"t":601,"v":-5},{"t":602,"v":-15},{"t":603,"v":-5},{"t":604,"v":5},{"t":605,"v":15},{"t":606,"v":25},{"t":607,"v":15},{"t":608.3,"v":20}],
"c6":[{"t":307.3,"v":0},{"t":308.4,"v":20},{"t":309.5,"v":-10},{"t":310.5,"v":10},{"t":311.2,"v":-25},{"t":311.9,"v":30},{"t":312.8,"v":-10},{"t":313.7,"v":-40},{"t":314.8,"v":-15},{"t":315.5,"v":-20},{"t":316.5,"v":-30},{"t":317.4,"v":10},{"t":318.2,"v":-5},{"t":319.1,"v":-20},{"t":319.6,"v":10},{"t":320.2,"v":-85},{"t":320.9,"v":0},{"t":321.5,"v":80},{"t":322,"v":150},{"t":322.5,"v":260},{"t":323,"v":240},{"t":323.7,"v":150},{"t":324.5,"v":110},{"t":325.2,"v":90},{"t":325.7,"v":60},{"t":326.4,"v":20},{"t":327.3,"v":-10},{"t":328.6,"v":5},{"t":329.5,"v":-15},{"t":330.4,"v":-20},{"t":331.6,"v":-10},{"t":333,"v":-30},{"t":334.5,"v":-15},{"t":336,"v":-52},{"t":337.5,"v":-20},{"t":339,"v":-35},{"t":340,"v":-20},{"t":341,"v":-10},{"t":342,"v":-2},{"t":343,"v":-25},{"t":344,"v":-10},{"t":345,"v":5},{"t":346,"v":-5},{"t":347,"v":-10},{"t":348.1,"v":10},{"t":349,"v":2},{"t":350,"v":-5},{"t":351,"v":8},{"t":352,"v":10},{"t":353,"v":-2},{"t":354.4,"v":15},{"t":355,"v":5},{"t":356,"v":-5},{"t":357,"v":5},{"t":358,"v":10},{"t":359,"v":-2},{"t":360,"v":-10},{"t":361,"v":2},{"t":362.8,"v":10},{"t":363.5,"v":0},{"t":364.5,"v":-5},{"t":365.5,"v":5},{"t":366.5,"v":15},{"t":367.5,"v":8},{"t":369,"v":25},{"t":370,"v":15},{"t":371,"v":5},{"t":372,"v":-5},{"t":373.4,"v":-10},{"t":374.2,"v":2},{"t":375,"v":10},{"t":376,"v":0},{"t":377,"v":-5},{"t":378,"v":8},{"t":379,"v":15},{"t":380,"v":5},{"t":381,"v":0},{"t":382,"v":8},{"t":383.9,"v":10},{"t":385,"v":0},{"t":386,"v":-5},{"t":387,"v":8},{"t":388,"v":15},{"t":389,"v":2},{"t":390,"v":5},{"t":391,"v":15},{"t":392.3,"v":30},{"t":393.3,"v":15},{"t":394.4,"v":10},{"t":395.5,"v":-5},{"t":396.5,"v":-20},{"t":397.2,"v":-5},{"t":398,"v":5},{"t":399,"v":0},{"t":400.7,"v":20},{"t":401.5,"v":10},{"t":402.5,"v":0},{"t":403.5,"v":10},{"t":404.9,"v":15},{"t":405.7,"v":25},{"t":406.5,"v":30},{"t":407.5,"v":50},{"t":408.5,"v":75},{"t":409,"v":60},{"t":409.5,"v":40},{"t":410.2,"v":25},{"t":411,"v":10},{"t":412,"v":0},{"t":413,"v":-5},{"t":414,"v":-10},{"t":415.4,"v":-20},{"t":416.2,"v":-5},{"t":417,"v":5},{"t":418,"v":-5},{"t":419,"v":-10},{"t":420,"v":2},{"t":421.7,"v":10},{"t":422.5,"v":0},{"t":423.5,"v":-5},{"t":424.5,"v":5},{"t":426,"v":-10},{"t":427,"v":-2},{"t":428,"v":5},{"t":429,"v":-5},{"t":430,"v":-5},{"t":431,"v":10},{"t":432.3,"v":20},{"t":433.2,"v":5},{"t":434,"v":0},{"t":435,"v":-8},{"t":436.5,"v":-15},{"t":437.2,"v":-5},{"t":438,"v":5},{"t":439,"v":-2},{"t":440,"v":-5},{"t":441,"v":5},{"t":442,"v":10},{"t":443,"v":0},{"t":444.9,"v":10},{"t":445.7,"v":0},{"t":446.5,"v":-5},{"t":447.5,"v":8},{"t":448.5,"v":20},{"t":449.5,"v":25},{"t":450.5,"v":35},{"t":451.5,"v":40},{"t":452.5,"v":45},{"t":453.3,"v":50},{"t":454.2,"v":20},{"t":455,"v":0},{"t":456,"v":-5},{"t":457.5,"v":-10},{"t":458.3,"v":-2},{"t":459,"v":5},{"t":460,"v":-2},{"t":461,"v":-5},{"t":462,"v":5},{"t":463.5,"v":10},{"t":464.7,"v":0},{"t":466,"v":-5},{"t":467,"v":-2},{"t":468,"v":-10},{"t":469,"v":-2},{"t":470,"v":5},{"t":471,"v":0},{"t":472,"v":-5},{"t":473,"v":5},{"t":474,"v":10},{"t":475,"v":5},{"t":476.5,"v":20},{"t":477.5,"v":8},{"t":478.6,"v":15},{"t":479.6,"v":10},{"t":480.7,"v":25},{"t":481.6,"v":15},{"t":482.5,"v":5},{"t":483.5,"v":8},{"t":484.9,"v":0},{"t":486,"v":-5},{"t":487,"v":-10},{"t":488,"v":-5},{"t":489.1,"v":-20},{"t":490,"v":-8},{"t":491,"v":5},{"t":492,"v":10},{"t":493.3,"v":25},{"t":494.2,"v":15},{"t":495,"v":5},{"t":496,"v":0},{"t":497.5,"v":-10},{"t":498.5,"v":2},{"t":499.5,"v":10},{"t":500.3,"v":30},{"t":501,"v":55},{"t":501.7,"v":30},{"t":502.5,"v":10},{"t":503.3,"v":0},{"t":504,"v":-10},{"t":505,"v":-15},{"t":506,"v":-25},{"t":507,"v":-12},{"t":508,"v":-5},{"t":509,"v":-12},{"t":510,"v":-15},{"t":511,"v":-2},{"t":512,"v":5},{"t":513,"v":-2},{"t":514.3,"v":10},{"t":515.2,"v":2},{"t":516,"v":-5},{"t":517,"v":2},{"t":518,"v":5},{"t":519,"v":-2},{"t":520,"v":-10},{"t":521.3,"v":5},{"t":522.6,"v":15},{"t":523.5,"v":5},{"t":524.5,"v":0},{"t":525.5,"v":5},{"t":526.5,"v":10},{"t":527.5,"v":0},{"t":528.5,"v":-5},{"t":529.8,"v":5},{"t":531.2,"v":10},{"t":532,"v":2},{"t":533,"v":-5},{"t":534,"v":2},{"t":535,"v":5},{"t":536,"v":-2},{"t":537.5,"v":-10},{"t":538.5,"v":-2},{"t":539.5,"v":5},{"t":540.3,"v":12},{"t":541,"v":20},{"t":541.7,"v":5},{"t":542.3,"v":-10},{"t":542.8,"v":150},{"t":543.4,"v":210},{"t":544.2,"v":200},{"t":545,"v":30},{"t":546,"v":5},{"t":546.7,"v":-10},{"t":547.3,"v":0},{"t":548,"v":5},{"t":549,"v":-5},{"t":550,"v":10},{"t":551,"v":0},{"t":552.2,"v":-25},{"t":553.2,"v":-10},{"t":554,"v":5},{"t":555,"v":-5},{"t":556.4,"v":15},{"t":557.5,"v":5},{"t":558.5,"v":0},{"t":559.5,"v":8},{"t":560.6,"v":-10},{"t":561.5,"v":0},{"t":562.5,"v":5},{"t":563.7,"v":-5},{"t":565,"v":-5},{"t":566,"v":5},{"t":567,"v":10},{"t":568,"v":0},{"t":569,"v":10},{"t":570,"v":2},{"t":571,"v":-5},{"t":572,"v":5},{"t":573,"v":5},{"t":574,"v":-5},{"t":575,"v":-5},{"t":576.2,"v":5},{"t":577.5,"v":-10},{"t":578.5,"v":0},{"t":579.5,"v":5},{"t":580.5,"v":-5},{"t":581.5,"v":0},{"t":582.5,"v":8},{"t":583.8,"v":15},{"t":584.6,"v":5},{"t":585.5,"v":0},{"t":586.5,"v":8},{"t":587.5,"v":-5},{"t":588.5,"v":2},{"t":589.5,"v":10},{"t":590.8,"v":2},{"t":592,"v":0},{"t":593,"v":8},{"t":594.3,"v":10},{"t":595.2,"v":0},{"t":596,"v":-5},{"t":597,"v":5},{"t":598,"v":10},{"t":599.3,"v":5},{"t":600.6,"v":20},{"t":601.3,"v":10},{"t":602,"v":0},{"t":602.8,"v":-8},{"t":603.7,"v":-20},{"t":604.7,"v":5},{"t":605.7,"v":30},{"t":606.4,"v":15},{"t":607,"v":10},{"t":607.6,"v":20},{"t":608.3,"v":25}],
"c7":[{"t":307.3,"v":-20},{"t":308.4,"v":-15},{"t":310,"v":0},{"t":311.5,"v":20},{"t":312.5,"v":10},{"t":313.7,"v":-30},{"t":314.6,"v":10},{"t":316.2,"v":-40},{"t":316.8,"v":-20},{"t":317.8,"v":-30},{"t":319.1,"v":-40},{"t":320.2,"v":0},{"t":320.9,"v":70},{"t":322,"v":75},{"t":323.7,"v":80},{"t":325,"v":75},{"t":325.5,"v":65},{"t":327,"v":50},{"t":328,"v":35},{"t":329,"v":30},{"t":330.5,"v":10},{"t":331.5,"v":15},{"t":332.5,"v":0},{"t":334,"v":-10},{"t":335.5,"v":-30},{"t":337,"v":-45},{"t":338.5,"v":-55},{"t":340,"v":-50},{"t":341.8,"v":-35},{"t":343,"v":-30},{"t":344,"v":-45},{"t":346,"v":-20},{"t":347,"v":-5},{"t":348.1,"v":15},{"t":349,"v":8},{"t":350,"v":5},{"t":351,"v":12},{"t":352,"v":20},{"t":353,"v":15},{"t":354.4,"v":20},{"t":355.2,"v":12},{"t":356,"v":10},{"t":357,"v":18},{"t":358,"v":15},{"t":359,"v":8},{"t":360,"v":5},{"t":361,"v":12},{"t":362,"v":10},{"t":362.8,"v":15},{"t":363.6,"v":8},{"t":364.5,"v":10},{"t":365.5,"v":15},{"t":366.5,"v":20},{"t":367.5,"v":15},{"t":368.5,"v":10},{"t":369.5,"v":18},{"t":370.5,"v":15},{"t":372,"v":8},{"t":373.4,"v":10},{"t":374.5,"v":15},{"t":375.5,"v":20},{"t":376.5,"v":12},{"t":377.5,"v":5},{"t":378.5,"v":10},{"t":379.5,"v":15},{"t":380.5,"v":8},{"t":381.5,"v":10},{"t":382.7,"v":2},{"t":383.9,"v":5},{"t":385,"v":12},{"t":386,"v":10},{"t":387,"v":5},{"t":388,"v":15},{"t":389,"v":10},{"t":390,"v":5},{"t":391,"v":12},{"t":392.3,"v":20},{"t":393.3,"v":10},{"t":394.4,"v":5},{"t":395.5,"v":0},{"t":396.5,"v":-10},{"t":397.5,"v":-2},{"t":398.5,"v":5},{"t":399.5,"v":2},{"t":400.5,"v":10},{"t":401.5,"v":5},{"t":402.5,"v":15},{"t":403.7,"v":20},{"t":404.9,"v":30},{"t":405.7,"v":25},{"t":406.5,"v":20},{"t":407.8,"v":15},{"t":409.1,"v":10},{"t":410,"v":5},{"t":411,"v":0},{"t":412,"v":-5},{"t":413.3,"v":-10},{"t":414.2,"v":-2},{"t":415,"v":5},{"t":416,"v":15},{"t":417.5,"v":25},{"t":418.5,"v":15},{"t":419.5,"v":10},{"t":420.5,"v":15},{"t":421.7,"v":10},{"t":422.8,"v":5},{"t":424,"v":0},{"t":425,"v":-5},{"t":426,"v":-10},{"t":427,"v":-15},{"t":427.7,"v":-25},{"t":428.3,"v":-40},{"t":429.2,"v":-15},{"t":430.5,"v":10},{"t":431.5,"v":8},{"t":432.5,"v":5},{"t":433.5,"v":10},{"t":434.5,"v":15},{"t":435.5,"v":20},{"t":436.5,"v":25},{"t":437.5,"v":30},{"t":438.5,"v":40},{"t":439.4,"v":55},{"t":440.2,"v":65},{"t":441,"v":60},{"t":441.5,"v":50},{"t":442.2,"v":40},{"t":443,"v":30},{"t":444,"v":20},{"t":445,"v":10},{"t":446,"v":5},{"t":447,"v":0},{"t":448,"v":-5},{"t":449,"v":-10},{"t":450,"v":-15},{"t":451.2,"v":-20},{"t":452,"v":-15},{"t":453,"v":-10},{"t":454,"v":-12},{"t":455,"v":-15},{"t":456,"v":-10},{"t":457.5,"v":-15},{"t":458.5,"v":-8},{"t":460,"v":-5},{"t":461,"v":-8},{"t":462,"v":-10},{"t":463,"v":-5},{"t":464,"v":-5},{"t":465,"v":-2},{"t":466,"v":0},{"t":467,"v":-5},{"t":468,"v":-10},{"t":469,"v":-5},{"t":470,"v":0},{"t":471,"v":2},{"t":472,"v":5},{"t":473,"v":0},{"t":474,"v":-5},{"t":475,"v":-2},{"t":476.5,"v":0},{"t":477.5,"v":10},{"t":478.6,"v":15},{"t":479.5,"v":10},{"t":480.5,"v":5},{"t":481.5,"v":8},{"t":482.5,"v":10},{"t":483.5,"v":5},{"t":484.5,"v":0},{"t":485.7,"v":2},{"t":487,"v":5},{"t":488,"v":2},{"t":489.1,"v":0},{"t":490,"v":-2},{"t":491,"v":-5},{"t":492,"v":-8},{"t":493.3,"v":-10},{"t":494.5,"v":-2},{"t":495.5,"v":5},{"t":496.5,"v":8},{"t":497.5,"v":10},{"t":498.5,"v":12},{"t":499.6,"v":15},{"t":500.5,"v":8},{"t":501.5,"v":0},{"t":502.5,"v":5},{"t":503.5,"v":10},{"t":504.7,"v":2},{"t":505.8,"v":-5},{"t":507,"v":-2},{"t":508,"v":0},{"t":509,"v":5},{"t":510.1,"v":10},{"t":511,"v":5},{"t":512,"v":0},{"t":513,"v":2},{"t":514,"v":5},{"t":515.2,"v":-2},{"t":516.5,"v":-10},{"t":517.5,"v":-5},{"t":518.5,"v":0},{"t":519.6,"v":2},{"t":520.7,"v":5},{"t":521.7,"v":0},{"t":522.7,"v":-5},{"t":523.7,"v":0},{"t":524.7,"v":5},{"t":525.8,"v":2},{"t":527,"v":0},{"t":528,"v":5},{"t":529,"v":10},{"t":530,"v":5},{"t":531.2,"v":10},{"t":532,"v":5},{"t":533,"v":0},{"t":534,"v":2},{"t":535,"v":5},{"t":536.2,"v":10},{"t":537.5,"v":15},{"t":538.5,"v":12},{"t":539.5,"v":10},{"t":540.6,"v":18},{"t":541.7,"v":25},{"t":542.6,"v":20},{"t":543.5,"v":15},{"t":544.5,"v":12},{"t":545.5,"v":10},{"t":546.7,"v":12},{"t":548,"v":15},{"t":549,"v":10},{"t":550,"v":5},{"t":551,"v":-5},{"t":552.2,"v":-15},{"t":553.2,"v":-12},{"t":554.4,"v":-10},{"t":555.4,"v":-8},{"t":556.5,"v":-5},{"t":557.5,"v":-2},{"t":558.5,"v":0},{"t":559.5,"v":-5},{"t":560.6,"v":-10},{"t":561.6,"v":-2},{"t":562.7,"v":5},{"t":563.8,"v":2},{"t":565,"v":0},{"t":566,"v":-5},{"t":567,"v":-10},{"t":568,"v":-12},{"t":569,"v":-15},{"t":570,"v":-10},{"t":571,"v":-5},{"t":572.2,"v":-2},{"t":573.3,"v":0},{"t":574.4,"v":5},{"t":575.5,"v":10},{"t":576.5,"v":8},{"t":577.5,"v":5},{"t":578.5,"v":10},{"t":579.6,"v":15},{"t":580.6,"v":18},{"t":581.7,"v":20},{"t":582.7,"v":10},{"t":583.8,"v":0},{"t":584.8,"v":-5},{"t":585.8,"v":-10},{"t":587,"v":-8},{"t":588,"v":-5},{"t":589,"v":0},{"t":590,"v":5},{"t":591,"v":2},{"t":592,"v":0},{"t":593.2,"v":2},{"t":594.3,"v":5},{"t":595.4,"v":2},{"t":596.5,"v":0},{"t":597.5,"v":2},{"t":598.5,"v":5},{"t":599.5,"v":2},{"t":600.6,"v":0},{"t":601.6,"v":5},{"t":602.5,"v":10},{"t":603.7,"v":12},{"t":604.8,"v":15},{"t":605.7,"v":12},{"t":606.5,"v":10},{"t":607.4,"v":12},{"t":608.3,"v":10}]
},
"hconcat":[
 {"width":99,"height":627.2,
  "layer":[
   {"data":{"name":"seps"},"mark":{"type":"rule","color":"#e4e4e4","strokeWidth":1},
    "encoding":{"y":{"field":"b","type":"quantitative","scale":{"domain":[7.5,0.5],"nice":false,"zero":false},"axis":null},"x":{"datum":6,"type":"quantitative","scale":{"domain":[0,99],"nice":false},"axis":null},"x2":{"datum":99}}},
   {"data":{"values":[{"a":0.5,"b":7.5}]},"mark":{"type":"rule","color":"#e4e4e4","strokeWidth":1},
    "encoding":{"x":{"datum":98.5,"type":"quantitative"},"y":{"field":"a","type":"quantitative"},"y2":{"field":"b"}}},
   {"data":{"name":"labels"},"mark":{"type":"text","fontSize":10.5,"color":"#666","font":"Open Sans","lineBreak":"\n","lineHeight":17,"align":"center","baseline":"middle"},
    "encoding":{"y":{"field":"ch","type":"quantitative"},"x":{"datum":48,"type":"quantitative"},"text":{"field":"label"}}}
  ]},
 {"vconcat":[
  {"width":1685,"height":86,"data":{"name":"c1"},"mark":{"type":"line","color":"#303030","strokeWidth":1.2,"clip":false},
   "encoding":{"x":{"field":"t","type":"quantitative","scale":{"domain":[307.3,608.4],"nice":false,"zero":false},"axis":null},
    "y":{"field":"v","type":"quantitative","scale":{"domain":[-159.3,159.3],"nice":false},"axis":{"values":[-100,0,100],"title":null,"grid":false,"domainColor":"#777","domainWidth":2,"tickColor":"#ccc","tickSize":6,"labelFontSize":8,"labelColor":"#777","labelPadding":2}}}},
  {"width":1685,"height":86,"data":{"name":"c2"},"mark":{"type":"line","color":"#303030","strokeWidth":1.2,"clip":false},
   "encoding":{"x":{"field":"t","type":"quantitative","scale":{"domain":[307.3,608.4],"nice":false,"zero":false},"axis":null},
    "y":{"field":"v","type":"quantitative","scale":{"domain":[-159.3,159.3],"nice":false},"axis":{"values":[-100,0,100],"title":null,"grid":false,"domainColor":"#777","domainWidth":2,"tickColor":"#ccc","tickSize":6,"labelFontSize":8,"labelColor":"#777","labelPadding":2}}}},
  {"width":1685,"height":86,"data":{"name":"c3"},"mark":{"type":"line","color":"#303030","strokeWidth":1.2,"clip":false},
   "encoding":{"x":{"field":"t","type":"quantitative","scale":{"domain":[307.3,608.4],"nice":false,"zero":false},"axis":null},
    "y":{"field":"v","type":"quantitative","scale":{"domain":[-159.3,159.3],"nice":false},"axis":{"values":[-100,0,100],"title":null,"grid":false,"domainColor":"#777","domainWidth":2,"tickColor":"#ccc","tickSize":6,"labelFontSize":8,"labelColor":"#777","labelPadding":2}}}},
  {"width":1685,"height":86,"data":{"name":"c4"},"mark":{"type":"line","color":"#303030","strokeWidth":1.2,"clip":false},
   "encoding":{"x":{"field":"t","type":"quantitative","scale":{"domain":[307.3,608.4],"nice":false,"zero":false},"axis":null},
    "y":{"field":"v","type":"quantitative","scale":{"domain":[-159.3,159.3],"nice":false},"axis":{"values":[-100,0,100],"title":null,"grid":false,"domainColor":"#777","domainWidth":2,"tickColor":"#ccc","tickSize":6,"labelFontSize":8,"labelColor":"#777","labelPadding":2}}}},
  {"width":1685,"height":86,"data":{"name":"c5"},"mark":{"type":"line","color":"#303030","strokeWidth":1.2,"clip":false},
   "encoding":{"x":{"field":"t","type":"quantitative","scale":{"domain":[307.3,608.4],"nice":false,"zero":false},"axis":null},
    "y":{"field":"v","type":"quantitative","scale":{"domain":[-159.3,159.3],"nice":false},"axis":{"values":[-100,0,100],"title":null,"grid":false,"domainColor":"#777","domainWidth":2,"tickColor":"#ccc","tickSize":6,"labelFontSize":8,"labelColor":"#777","labelPadding":2}}}},
  {"width":1685,"height":86,"data":{"name":"c6"},"mark":{"type":"line","color":"#303030","strokeWidth":1.2,"clip":false},
   "encoding":{"x":{"field":"t","type":"quantitative","scale":{"domain":[307.3,608.4],"nice":false,"zero":false},"axis":null},
    "y":{"field":"v","type":"quantitative","scale":{"domain":[-159.3,159.3],"nice":false},"axis":{"values":[-100,0,100],"title":null,"grid":false,"domainColor":"#777","domainWidth":2,"tickColor":"#ccc","tickSize":6,"labelFontSize":8,"labelColor":"#777","labelPadding":2}}}},
  {"width":1685,"height":86,"data":{"name":"c7"},"mark":{"type":"line","color":"#303030","strokeWidth":1.2,"clip":false},
   "encoding":{"x":{"field":"t","type":"quantitative","scale":{"domain":[307.3,608.4],"nice":false,"zero":false},"axis":{"values":[350,400,450,500,550,600],"labelExpr":"datum.value == 600 ? '23:21:00' : '23:20:' + (datum.value / 10)","title":null,"grid":false,"domainColor":"#dddddd","domainWidth":1.5,"tickColor":"#cccccc","tickSize":5,"labelFontSize":8.5,"labelColor":"#333","labelPadding":2}},
    "y":{"field":"v","type":"quantitative","scale":{"domain":[-159.3,159.3],"nice":false},"axis":{"values":[-100,0,100],"title":null,"grid":false,"domainColor":"#777","domainWidth":2,"tickColor":"#ccc","tickSize":6,"labelFontSize":8,"labelColor":"#777","labelPadding":2}}}},
  {"width":1685,"height":54.6,
   "layer":[
    {"data":{"values":[{}]},"mark":{"type":"rule","color":"#e6e6e6","strokeWidth":2},
     "encoding":{"x":{"datum":21.1,"type":"quantitative","scale":{"domain":[22.089,32.529],"nice":false,"zero":false},"axis":null},"x2":{"datum":32.52},"y":{"datum":0.5,"type":"quantitative","scale":{"domain":[40,-14.6],"nice":false,"zero":false},"axis":null}}},
    {"data":{"values":[{}]},"mark":{"type":"rule","color":"#e8559a","strokeWidth":1.5},
     "encoding":{"x":{"datum":23.342,"type":"quantitative"},"y":{"datum":6,"type":"quantitative"},"y2":{"datum":32}}},
    {"data":{"values":[{"a":22.2565,"b":22.4424},{"a":32.145,"b":32.325}]},"mark":{"type":"rect","fill":"white","stroke":"#d0d0d0","strokeWidth":1,"cornerRadius":3},
     "encoding":{"x":{"field":"a","type":"quantitative"},"x2":{"field":"b"},"y":{"datum":17,"type":"quantitative"},"y2":{"datum":39}}},
    {"data":{"values":[{"g":"<","c":22.349},{"g":">","c":32.235}]},"mark":{"type":"text","color":"#999","fontSize":15,"baseline":"middle","align":"center","font":"DejaVu Sans"},
     "encoding":{"x":{"field":"c","type":"quantitative"},"y":{"datum":27.5,"type":"quantitative"},"text":{"field":"g"}}},
    {"data":{"values":[{"s":"23:20:30 -0500"}]},"mark":{"type":"text","color":"#555","fontSize":11.5,"baseline":"middle","align":"center","font":"Open Sans"},
     "encoding":{"x":{"datum":21.662,"type":"quantitative"},"y":{"datum":27.5,"type":"quantitative"},"text":{"field":"s"}}},
    {"data":{"name":"hours"},"mark":{"type":"text","color":"#222","fontSize":11,"fontWeight":"bold","baseline":"top","align":"center","clip":true,"font":"Open Sans"},
     "encoding":{"x":{"field":"h","type":"quantitative"},"y":{"datum":37.5,"type":"quantitative"},"text":{"field":"lab"}}}
   ]}
 ],"spacing":4.2,"bounds":"flush"}
],"spacing":62,"bounds":"flush"
}
